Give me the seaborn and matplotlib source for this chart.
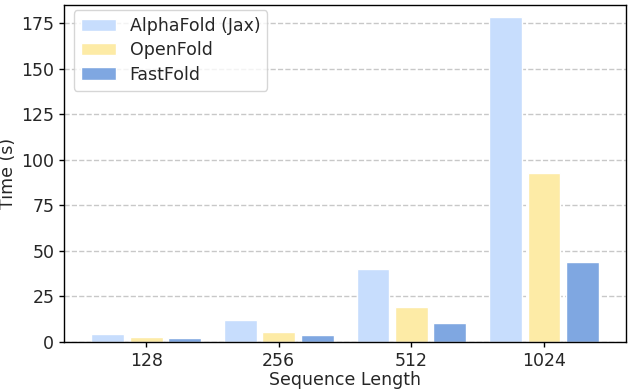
import matplotlib
matplotlib.use("Agg")
import matplotlib.pyplot as plt
import seaborn as sns
import pandas as pd

categories = ["128", "256", "512", "1024"]
series = ["AlphaFold (Jax)", "OpenFold", "FastFold"]
alphafold = [4.6, 12.1, 40.0, 178.3]
openfold = [2.7, 5.7, 19.2, 92.7]
fastfold = [2.2, 3.7, 10.4, 43.9]
colors = ["#c7ddfd", "#fdeba6", "#7fa7e1"]

rows = []
for name, vals in zip(series, [alphafold, openfold, fastfold]):
    for c, v in zip(categories, vals):
        rows.append({"Sequence Length": c, "Time (s)": v, "Method": name})
df = pd.DataFrame(rows)

sns.set_style("white")
plt.rcParams["font.family"] = ["DejaVu Sans"]
fig, ax = plt.subplots(figsize=(6.28, 3.9), dpi=100)
sns.barplot(data=df, x="Sequence Length", y="Time (s)", hue="Method",
            order=categories, hue_order=series, palette=colors,
            width=0.87, gap=0.15, ax=ax, errorbar=None, saturation=1)
ax.set_xlim(-0.62, 3.62)
ax.set_ylim(0, 185)
ax.set_yticks([0, 25, 50, 75, 100, 125, 150, 175])
ax.yaxis.grid(True, linestyle="--", color="#c8c8c8", linewidth=1)
ax.set_axisbelow(True)
for s in ax.spines.values():
    s.set_color("black")
    s.set_linewidth(1)
ax.tick_params(axis="both", labelsize=12.5, length=3.5, width=1, color="black", bottom=True, left=True)
ax.set_xlabel("Sequence Length", fontsize=12.5, labelpad=1)
ax.set_ylabel("Time (s)", fontsize=12.5, labelpad=3)
leg = ax.legend(loc="upper left", bbox_to_anchor=(0.017, 0.985), fontsize=12.5,
                frameon=True, title=None, handlelength=2.0, labelspacing=0.35,
                borderaxespad=0, handletextpad=0.8, borderpad=0.42)
plt.subplots_adjust(left=0.102, right=0.997, top=0.987, bottom=0.123)
fig.savefig("out.png", dpi=100)
